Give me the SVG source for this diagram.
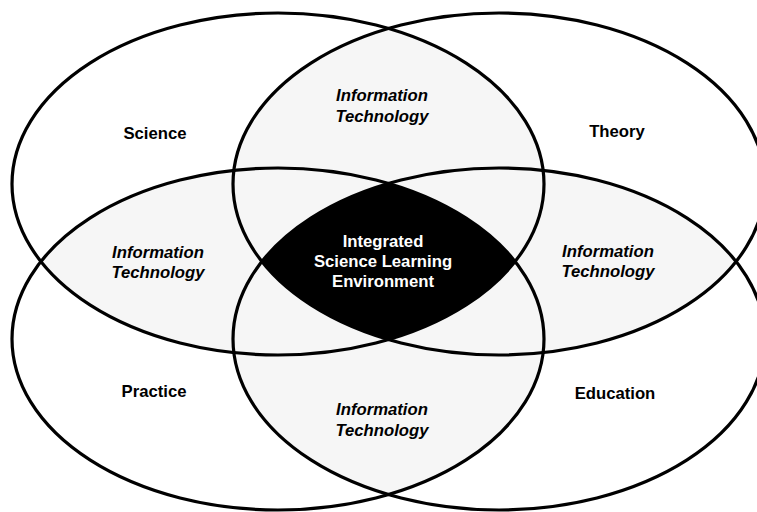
<svg xmlns="http://www.w3.org/2000/svg" width="757" height="512" viewBox="0 0 757 512">
<style>
.ring{fill:none;stroke:#000;stroke-width:3.2}
.shade{fill:#f6f6f6}
.lbl{font-family:"Liberation Sans",Arial,sans-serif;font-weight:bold;font-size:16.7px;text-anchor:middle;fill:#000}
.it{font-style:italic}
.core{fill:#fff}
</style>
<defs>
<ellipse id="e1" cx="278" cy="184" rx="266" ry="171"/>
<ellipse id="e2" cx="499" cy="184" rx="266" ry="171"/>
<ellipse id="e3" cx="278" cy="339" rx="266" ry="171"/>
<ellipse id="e4" cx="499" cy="339" rx="266" ry="171"/>
<clipPath id="c1"><use href="#e1"/></clipPath>
<clipPath id="c2"><use href="#e2"/></clipPath>
<clipPath id="c3"><use href="#e3"/></clipPath>
<clipPath id="c4"><use href="#e4"/></clipPath>
</defs>
<rect width="757" height="512" fill="#fff"/>
<g id="overlaps">
<g clip-path="url(#c1)"><use href="#e2" class="shade"/><use href="#e3" class="shade"/><use href="#e4" class="shade"/></g>
<g clip-path="url(#c2)"><use href="#e3" class="shade"/><use href="#e4" class="shade"/></g>
<g clip-path="url(#c3)"><use href="#e4" class="shade"/></g>
<g clip-path="url(#c1)"><g clip-path="url(#c2)"><g clip-path="url(#c3)"><use href="#e4" fill="#000"/></g></g></g>
</g>
<g id="connectors"></g>
<g id="science"><use href="#e1" class="ring"/><text class="lbl" x="155" y="139">Science</text></g>
<g id="theory"><use href="#e2" class="ring"/><text class="lbl" x="617" y="137">Theory</text></g>
<g id="practice"><use href="#e3" class="ring"/><text class="lbl" x="154" y="397">Practice</text></g>
<g id="education"><use href="#e4" class="ring"/><text class="lbl" x="615" y="399">Education</text></g>
<g id="it-top"><text class="lbl it" x="382" y="101">Information</text><text class="lbl it" x="382" y="122">Technology</text></g>
<g id="it-left"><text class="lbl it" x="158" y="257.5">Information</text><text class="lbl it" x="158" y="277.5">Technology</text></g>
<g id="it-right"><text class="lbl it" x="608" y="256.5">Information</text><text class="lbl it" x="608" y="276.5">Technology</text></g>
<g id="it-bottom"><text class="lbl it" x="382" y="415">Information</text><text class="lbl it" x="382" y="436">Technology</text></g>
<g id="core"><text class="lbl core" x="383" y="247">Integrated</text><text class="lbl core" x="383" y="267">Science Learning</text><text class="lbl core" x="383" y="287">Environment</text></g>
</svg>
